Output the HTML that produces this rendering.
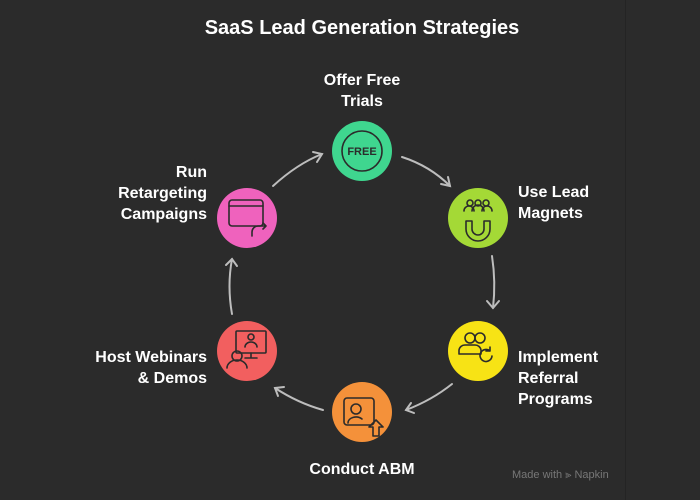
<!DOCTYPE html>
<html><head><meta charset="utf-8"><style>
html,body{margin:0;padding:0;background:#2b2b2b;}
body{width:700px;height:500px;position:relative;overflow:hidden;font-family:"Liberation Sans",sans-serif;}
.t{position:absolute;color:#fff;font-weight:bold;font-size:16px;line-height:21px;}
</style></head><body>
<div style="position:absolute;left:625px;top:0;width:1px;height:500px;background:#242424"></div>
<div class="t" style="left:0;width:724px;text-align:center;top:16px;font-size:20px;line-height:24px">SaaS Lead Generation Strategies</div>
<div class="t" style="left:262px;width:200px;text-align:center;top:70px">Offer Free<br>Trials</div>
<div class="t" style="left:518px;top:182px">Use Lead<br>Magnets</div>
<div class="t" style="left:518px;top:347px">Implement<br>Referral<br>Programs</div>
<div class="t" style="left:262px;width:200px;text-align:center;top:459px">Conduct ABM</div>
<div class="t" style="left:7px;width:200px;text-align:right;top:347px">Host Webinars<br>&amp; Demos</div>
<div class="t" style="left:7px;width:200px;text-align:right;top:162px">Run<br>Retargeting<br>Campaigns</div>
<div style="position:absolute;left:512px;top:469px;font-size:11px;color:#777">Made with ⫸ Napkin</div>
<svg width="700" height="500" style="position:absolute;left:0;top:0">
<g fill="none" stroke="#bdbdbd" stroke-width="2" stroke-linecap="round">
<path d="M402 157 Q430 166 450 186"/><path d="M441 184 L450 186 L448 177"/>
<path d="M492 256 Q496 282 493 308"/><path d="M487 301 L493 308 L499 301"/>
<path d="M452 384 Q432 400 406 410"/><path d="M411 403 L406 410 L414 413"/>
<path d="M323 410 Q298 403 275 388"/><path d="M278 396 L275 388 L284 387"/>
<path d="M232 314 Q227 286 232 259"/><path d="M226 265 L232 259 L237 266"/>
<path d="M273 186 Q297 164 322 154"/><path d="M313 152 L322 154 L317 162"/>
</g>
<circle cx="362" cy="151" r="30" fill="#3fd68f"/>
<circle cx="478" cy="218" r="30" fill="#a4d936"/>
<circle cx="478" cy="351" r="30" fill="#f7e315"/>
<circle cx="362" cy="412" r="30" fill="#f4913a"/>
<circle cx="247" cy="351" r="30" fill="#f25f5f"/>
<circle cx="247" cy="218" r="30" fill="#ef62bd"/>
<g fill="none" stroke="#2b2b2b" stroke-width="1.6" stroke-linecap="round" stroke-linejoin="round">
<circle cx="362" cy="151" r="20"/>
<path d="M466 221 v8 a12 12 0 0 0 24 0 v-8 h-6 v8 a6 6 0 0 1 -12 0 v-8 z"/>
<circle cx="470" cy="203" r="3"/><circle cx="478" cy="203" r="3"/><circle cx="486" cy="203" r="3"/>
<path d="M464 211 a5 5 0 0 1 10 0 M472 211 a5 5 0 0 1 12 0 M482 211 a5 5 0 0 1 10 0"/>
<circle cx="470" cy="338" r="5"/><circle cx="480" cy="338" r="5"/>
<path d="M459 354 v-4 a6 6 0 0 1 6 -5 h10 a6 6 0 0 1 6 5 v4 z"/>
<path d="M492 356 a6 6 0 1 1 -2 -5 m0 -4 v4 h-4"/>
<rect x="344" y="398" width="30" height="27" rx="3"/>
<circle cx="356" cy="409" r="5"/><path d="M348 423 a8 6 0 0 1 14 -4"/>
<path d="M373 436 v-9 h-4 l7 -7 l7 7 h-4 v9 z"/>
<rect x="236" y="331" width="30" height="22" rx="1"/><path d="M251 353 v5 h-6 h12"/>
<circle cx="251" cy="337" r="3"/><path d="M245 347 a6 5 0 0 1 12 0"/>
<circle cx="237" cy="356" r="5"/><path d="M227 368 a10 8 0 0 1 20 0"/>
<rect x="229" y="200" width="34" height="26" rx="3"/><path d="M229 206 h34"/>
<path d="M252 236 v-4 a6 6 0 0 1 6 -6 h8 m-3 -3 l3 3 l-3 3"/>
</g>
<text x="362" y="155" text-anchor="middle" font-family="Liberation Sans,sans-serif" font-size="11" font-weight="bold" fill="#2b2b2b">FREE</text>
</svg>
</body></html>
